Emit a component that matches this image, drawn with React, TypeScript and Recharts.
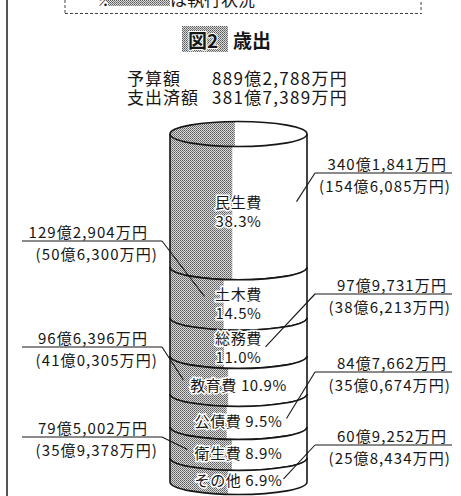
import React from 'react';
import { BarChart, Bar, XAxis, YAxis } from 'recharts';

// 歳出の内訳（上から順）
const categories = ['民生費', '土木費', '総務費', '教育費', '公債費', '衛生費', 'その他'];
const shares = [38.3, 14.5, 11.0, 10.9, 9.5, 8.9, 6.9];
// 予算額（万円）
const budgets = [3401841, 1292904, 979731, 966396, 847662, 795002, 609252];
// 支出済額（万円）
const spent = [1546085, 506300, 386213, 410305, 350674, 359378, 258434];

// callout layout (not data)
const CALLOUTS = [
  { side: 'right', lineY: 173, dx: 58, dy: -9 },
  { side: 'left', lineY: 241, dx: -34, dy: -6 },
  { side: 'right', lineY: 294, dx: 27, dy: 0 },
  { side: 'left', lineY: 347, dx: -55, dy: -5 },
  { side: 'right', lineY: 372, dx: 48, dy: -2 },
  { side: 'left', lineY: 437, dx: -51, dy: -3 },
  { side: 'right', lineY: 445, dx: 45, dy: -1 },
];
const TWO_LINE = [true, true, true, false, false, false, false];

const FONT = '"Noto Sans CJK JP", "Noto Sans", sans-serif';
const INK = '#161616';
const RY = 12.5;

const fmtOku = (man: number) => {
  const oku = Math.floor(man / 10000);
  const rest = String(man % 10000).padStart(4, '0');
  return `${oku}億${rest[0]},${rest.slice(1)}万円`;
};

const totalBudget = budgets.reduce((a, b) => a + b, 0);
const totalSpent = spent.reduce((a, b) => a + b, 0);

const row: Record<string, any> = { name: '歳出' };
categories.forEach((c, i) => (row[c] = shares[i]));
const chartData = [row];

const Dots = ({ id }: { id: string }) => (
  <defs>
    <pattern id={id} width={2} height={2} patternUnits="userSpaceOnUse">
      <rect width={2} height={2} fill="#dadada" />
      <rect x={0} y={0} width={1} height={1} fill="#5a5a5a" />
      <rect x={1} y={1} width={1} height={1} fill="#7a7a7a" />
    </pattern>
  </defs>
);

const Segment = (props: any) => {
  const { x, y, width, height, idx } = props;
  const top = Math.min(y, y + height);
  const bot = Math.max(y, y + height);
  const rx = width / 2;
  const cx = x + rx;
  const left = x;
  const right = x + width;
  const rate = spent[idx] / budgets[idx];
  const xs = left + width * rate;
  const h = RY * Math.sqrt(Math.max(0, 1 - ((xs - cx) / rx) ** 2));

  const body = `M${left},${top} L${left},${bot} A${rx},${RY} 0 0 0 ${right},${bot} L${right},${top} A${rx},${RY} 0 0 1 ${left},${top} Z`;
  const shade = `M${left},${top} L${left},${bot} A${rx},${RY} 0 0 0 ${xs},${bot + h} L${xs},${top + h} A${rx},${RY} 0 0 1 ${left},${top} Z`;
  // top face shading follows the overall execution ratio
  const xt = left + width * (totalSpent / totalBudget) + 6;
  const ht = RY * Math.sqrt(Math.max(0, 1 - ((xt - cx) / rx) ** 2));
  const topShade = `M${xt},${top - ht} A${rx},${RY} 0 0 0 ${left},${top} A${rx},${RY} 0 0 0 ${xt},${top + ht} Z`;

  const labelY = (top + bot) / 2 + 10;
  const co = CALLOUTS[idx];
  const endX = cx + co.dx;
  const endY = labelY + co.dy;
  const isRight = co.side === 'right';
  const lineStart = isRight ? 315 : 22;
  const lineEnd = isRight ? 452 : 162;
  const joinX = isRight ? 315 : 162;

  const textStyle: any = {
    fontFamily: FONT,
    fontSize: 15,
    fill: INK,
    stroke: '#fff',
    strokeWidth: 3,
    paintOrder: 'stroke',
    letterSpacing: 0.6,
  };
  const calloutStyle: any = { fontFamily: FONT, fontSize: 15, fill: INK, letterSpacing: 1.1 };

  return (
    <g>
      <Dots id={`dots-${idx}`} />
      {idx === 0 && (
        <g>
          <ellipse cx={cx} cy={top} rx={rx} ry={RY} fill="#fff" />
          <path d={topShade} fill={`url(#dots-${idx})`} />
        </g>
      )}
      <path d={body} fill="#fff" />
      <path d={shade} fill={`url(#dots-${idx})`} />
      <g stroke={INK} strokeWidth={1.6} fill="none">
        <line x1={left} y1={top} x2={left} y2={bot} />
        <line x1={right} y1={top} x2={right} y2={bot} />
        <path d={`M${left},${bot} A${rx},${RY} 0 0 0 ${right},${bot}`} />
        {idx === 0 ? (
          <ellipse cx={cx} cy={top} rx={rx} ry={RY} />
        ) : (
          <path d={`M${left},${top} A${rx},${RY} 0 0 0 ${right},${top}`} />
        )}
      </g>
      {TWO_LINE[idx] ? (
        <g>
          <text x={cx} y={labelY - 9} textAnchor="middle" dominantBaseline="central" style={textStyle}>
            {categories[idx]}
          </text>
          <text x={cx} y={labelY + 9.5} textAnchor="middle" dominantBaseline="central" style={textStyle}>
            {`${shares[idx].toFixed(1)}%`}
          </text>
        </g>
      ) : (
        <text x={cx} y={labelY} textAnchor="middle" dominantBaseline="central" style={textStyle}>
          {`${categories[idx]} ${shares[idx].toFixed(1)}%`}
        </text>
      )}
      {/* callout */}
      <g stroke={INK} strokeWidth={1.1} fill="none">
        <line x1={lineStart} y1={co.lineY} x2={lineEnd} y2={co.lineY} />
        <line x1={joinX} y1={co.lineY} x2={endX} y2={endY} />
      </g>
      <text x={isRight ? 447 : 148} y={co.lineY - 10} textAnchor="end" dominantBaseline="central" style={calloutStyle}>
        {fmtOku(budgets[idx])}
      </text>
      <text x={isRight ? 451 : 158} y={co.lineY + 12} textAnchor="end" dominantBaseline="central" style={calloutStyle}>
        {`(${fmtOku(spent[idx])})`}
      </text>
    </g>
  );
};

const Overlay = () => (
  <svg width={461} height={496} style={{ position: 'absolute', left: 0, top: 0, pointerEvents: 'none' }}>
    <Dots id="dots-title" />
    <line x1={7} y1={0} x2={7} y2={496} stroke="#555" strokeWidth={2} />
    {/* legend box cut at the top */}
    <g stroke="#444" strokeWidth={1} strokeDasharray="3 2" fill="none">
      <line x1={65} y1={13.5} x2={422} y2={13.5} />
      <line x1={65} y1={0} x2={65} y2={13.5} />
      <line x1={421} y1={2} x2={421} y2={10} />
    </g>
    <text x={97} y={-2} dominantBaseline="central" style={{ fontFamily: FONT, fontSize: 17, fill: INK }}>※</text>
    <rect x={108} y={0} width={62} height={6} fill="url(#dots-title)" />
    <text x={170} y={-2} dominantBaseline="central" style={{ fontFamily: FONT, fontSize: 17, fill: INK }}>は執行状況</text>
    {/* title */}
    <rect x={182} y={26} width={46} height={26} fill="url(#dots-title)" />
    <text x={188} y={39} dominantBaseline="central" style={{ fontFamily: FONT, fontSize: 19, fontWeight: 700, fill: INK, stroke: '#fff', strokeWidth: 2, paintOrder: 'stroke' }}>図2</text>
    <text x={233} y={39} dominantBaseline="central" style={{ fontFamily: FONT, fontSize: 19, fontWeight: 700, fill: INK }}>歳出</text>
    {/* totals */}
    <text x={127} y={77} dominantBaseline="central" style={{ fontFamily: FONT, fontSize: 17, fill: INK, letterSpacing: 1 }}>予算額</text>
    <text x={212} y={77} dominantBaseline="central" style={{ fontFamily: FONT, fontSize: 17, fill: INK, letterSpacing: 1.3 }}>{fmtOku(totalBudget)}</text>
    <text x={127} y={96} dominantBaseline="central" style={{ fontFamily: FONT, fontSize: 17, fill: INK, letterSpacing: 1 }}>支出済額</text>
    <text x={212} y={96} dominantBaseline="central" style={{ fontFamily: FONT, fontSize: 17, fill: INK, letterSpacing: 1.3 }}>{fmtOku(totalSpent)}</text>
  </svg>
);

export default function App() {
  return (
    <div style={{ position: 'absolute', left: 0, top: 0, width: 461, height: 496, background: '#fff', overflow: 'hidden' }}>
      <BarChart
        width={461}
        height={496}
        data={chartData}
        margin={{ top: 134, right: 154, bottom: 14, left: 170 }}
        barCategoryGap={0}
      >
        <XAxis dataKey="name" hide />
        <YAxis type="number" domain={[0, 100]} reversed hide />
        {categories.map((c, i) => (
          <Bar
            key={c}
            dataKey={c}
            stackId="a"
            isAnimationActive={false}
            shape={(p: any) => <Segment {...p} idx={i} />}
          />
        ))}
      </BarChart>
      <Overlay />
    </div>
  );
}
